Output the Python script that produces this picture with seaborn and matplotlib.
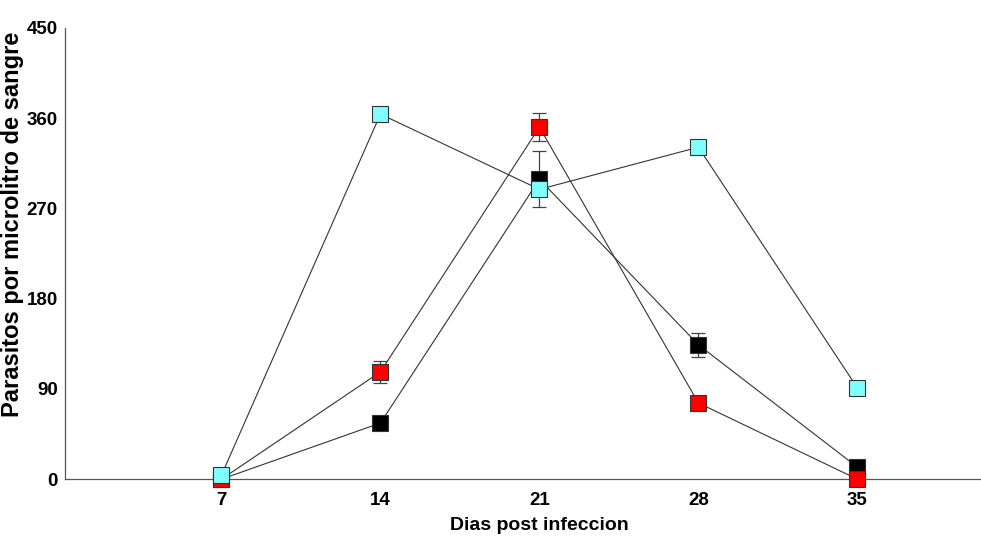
import pandas as pd
import seaborn as sns
import matplotlib.pyplot as plt

# data
days = [7, 14, 21, 28, 35]
cyan_vals = [4, 364, 289, 331, 91]
red_vals = [0, 107, 351, 76, 0]
black_vals = [0, 56, 299, 134, 12]
red_err = [0, 11, 14, 0, 0]
black_err = [0, 0, 28, 12, 0]
y_ticks = [0, 90, 180, 270, 360, 450]

sns.set_style("white")
plt.rcParams['font.family'] = ['Liberation Sans', 'DejaVu Sans']
plt.rcParams['font.weight'] = 'bold'
plt.rcParams['text.color'] = 'black'
plt.rcParams['axes.labelcolor'] = 'black'
plt.rcParams['xtick.labelcolor'] = 'black'
plt.rcParams['ytick.labelcolor'] = 'black'

fig = plt.figure(figsize=(9.81, 5.36), dpi=100)
ax = fig.add_axes([0.066, 0.106, 0.933, 0.842])

# draw order: black, red, cyan on top
series = [
    (black_vals, black_err, "#000000"),
    (red_vals, red_err, "#ff0000"),
    (cyan_vals, None, "#80ffff"),
]
for i, (vals, err, col) in enumerate(series):
    df = pd.DataFrame({"dia": days, "val": vals})
    if err is not None:
        ax.errorbar(days, vals, yerr=err, fmt="none", ecolor="#444444",
                    elinewidth=0.9, capsize=5, capthick=0.9, zorder=2 + i)
    sns.lineplot(data=df, x="dia", y="val", ax=ax, color="#333333",
                 linewidth=0.8, zorder=2 + i)
    ax.plot(days, vals, linestyle="none", marker="s", markersize=11,
            markerfacecolor=col, markeredgecolor="#333333",
            markeredgewidth=0.8, zorder=3 + i, clip_on=False)

ax.set_xlim(0.1, 40.4)
ax.set_ylim(0, 450)
ax.set_xticks(days)
ax.set_yticks(y_ticks)
ax.tick_params(axis="both", direction="out", length=4, width=0.8,
               color="#555555", labelsize=13.5)
ax.tick_params(axis="y", pad=1)
ax.tick_params(axis="x", pad=5)
for side in ["top", "right"]:
    ax.spines[side].set_visible(False)
for side in ["left", "bottom"]:
    ax.spines[side].set_color("#555555")
    ax.spines[side].set_linewidth(0.9)

ax.set_xlabel("Dias post infeccion", fontsize=14, fontweight="bold")
ax.xaxis.set_label_coords(0.519, -0.084)
ax.set_ylabel("Parasitos por microlitro de sangre", fontsize=17,
              fontweight="bold")
ax.yaxis.set_label_coords(-0.044, 0.565)

fig.savefig("out.png", dpi=100)
